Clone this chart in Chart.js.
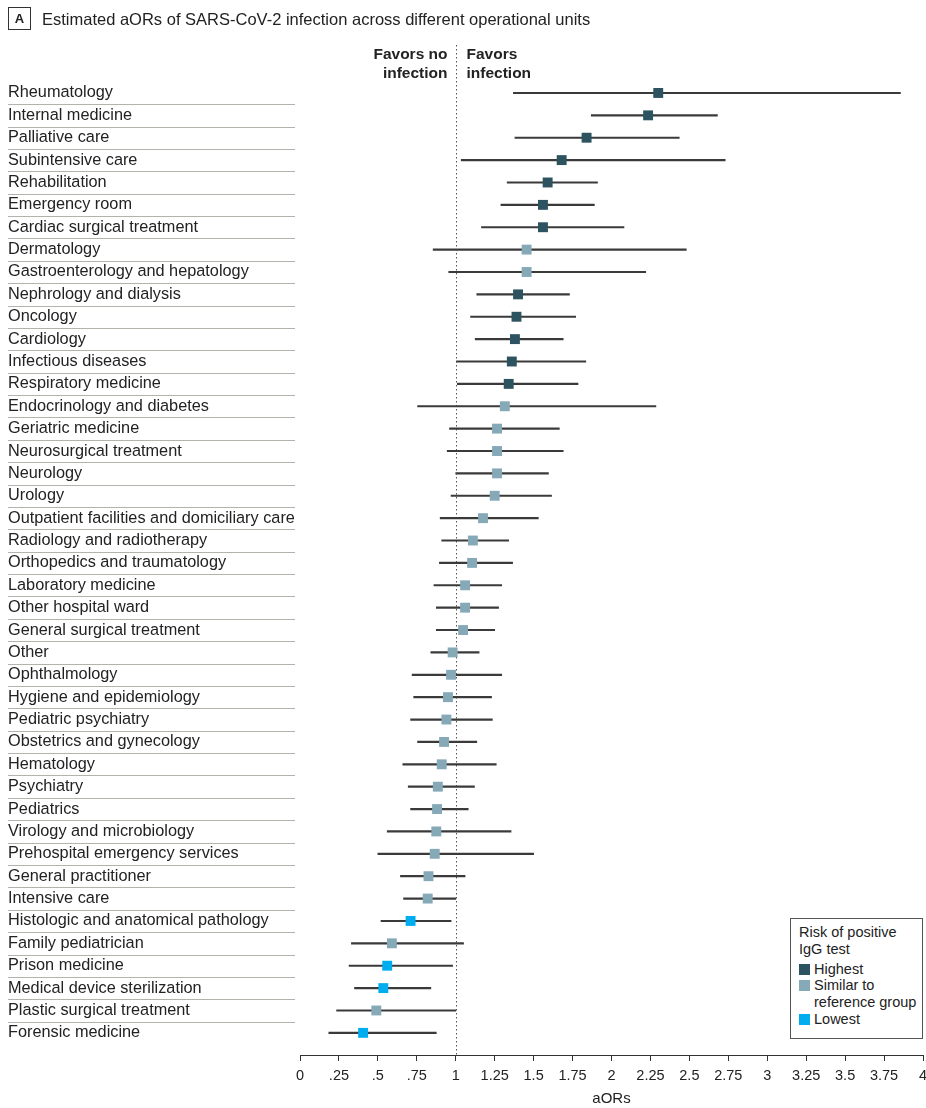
<!DOCTYPE html>
<html lang="en">
<head>
<meta charset="UTF-8">
<title>Estimated aORs by operational unit</title>
<script src="https://cdn.jsdelivr.net/npm/chart.js"></script>
<style>
  body { margin: 0; background: #fff; font-family: "Liberation Sans", Arial, sans-serif; color: #222; }
  #wrap { position: relative; width: 926px; height: 1108px; }
  #forest { position: absolute; left: 0; top: 0; }
  .head { position: absolute; left: 8px; top: 7px; font-size: 16.5px; line-height: 24px; white-space: nowrap; }
  .head b { display: inline-block; width: 21px; height: 21px; line-height: 21px; border: 1px solid #333; text-align: center; font-size: 13px; margin-right: 11px; vertical-align: middle; position: relative; top: -2px; }
  .legend { position: absolute; left: 790px; top: 918px; width: 123px; height: 111px; border: 1px solid #555; padding: 5px 0 3px 8px; font-size: 14.5px; line-height: 16.8px; background: #fff; }
  .legend .row { position: relative; padding-left: 15px; }
  .legend .sw { position: absolute; left: 0; top: 3px; width: 11px; height: 11px; }
  .legend .ttl { margin-bottom: 3px; }
</style>
</head>
<body>
<div id="wrap">
  <canvas id="forest" width="926" height="1108"></canvas>
  <div class="head"><b>A</b>Estimated aORs of SARS-CoV-2 infection across different operational units</div>
  <div class="legend" id="legend"></div>
</div>
<script>
// operational units, top to bottom
const units = [
  'Rheumatology', 'Internal medicine', 'Palliative care', 'Subintensive care', 'Rehabilitation',
  'Emergency room', 'Cardiac surgical treatment', 'Dermatology', 'Gastroenterology and hepatology',
  'Nephrology and dialysis', 'Oncology', 'Cardiology', 'Infectious diseases', 'Respiratory medicine',
  'Endocrinology and diabetes', 'Geriatric medicine', 'Neurosurgical treatment', 'Neurology', 'Urology',
  'Outpatient facilities and domiciliary care', 'Radiology and radiotherapy', 'Orthopedics and traumatology',
  'Laboratory medicine', 'Other hospital ward', 'General surgical treatment', 'Other', 'Ophthalmology',
  'Hygiene and epidemiology', 'Pediatric psychiatry', 'Obstetrics and gynecology', 'Hematology',
  'Psychiatry', 'Pediatrics', 'Virology and microbiology', 'Prehospital emergency services',
  'General practitioner', 'Intensive care', 'Histologic and anatomical pathology', 'Family pediatrician',
  'Prison medicine', 'Medical device sterilization', 'Plastic surgical treatment', 'Forensic medicine'
];

// adjusted odds ratios and 95% CI
const aor = [2.30, 2.235, 1.84, 1.68, 1.59, 1.56, 1.56, 1.455, 1.455, 1.40, 1.39, 1.38, 1.36, 1.34,
  1.315, 1.265, 1.265, 1.265, 1.25, 1.175, 1.11, 1.105, 1.06, 1.06, 1.047, 0.98, 0.97, 0.95, 0.94,
  0.925, 0.91, 0.885, 0.88, 0.875, 0.865, 0.825, 0.82, 0.71, 0.59, 0.56, 0.535, 0.49, 0.405];
const ciLow = [1.37, 1.87, 1.38, 1.035, 1.33, 1.29, 1.165, 0.855, 0.955, 1.135, 1.095, 1.125, 1.005,
  1.01, 0.755, 0.96, 0.945, 1.0, 0.97, 0.90, 0.91, 0.895, 0.86, 0.875, 0.875, 0.84, 0.72, 0.73, 0.71,
  0.755, 0.66, 0.695, 0.71, 0.56, 0.50, 0.645, 0.665, 0.52, 0.33, 0.315, 0.35, 0.235, 0.185];
const ciHigh = [3.855, 2.68, 2.435, 2.73, 1.91, 1.89, 2.08, 2.48, 2.22, 1.73, 1.77, 1.69, 1.835,
  1.785, 2.285, 1.665, 1.69, 1.595, 1.615, 1.53, 1.34, 1.365, 1.295, 1.275, 1.25, 1.15, 1.295, 1.23,
  1.235, 1.135, 1.26, 1.12, 1.08, 1.355, 1.50, 1.06, 1.0, 0.97, 1.05, 0.98, 0.84, 1.0, 0.875];

// risk of positive IgG test: H highest, S similar to reference, L lowest
const risk = ['H', 'H', 'H', 'H', 'H', 'H', 'H', 'S', 'S', 'H', 'H', 'H', 'H', 'H', 'S', 'S', 'S',
  'S', 'S', 'S', 'S', 'S', 'S', 'S', 'S', 'S', 'S', 'S', 'S', 'S', 'S', 'S', 'S', 'S', 'S', 'S',
  'S', 'L', 'S', 'L', 'L', 'S', 'L'];

const riskNames = { H: 'Highest', S: 'Similar to<br>reference group', L: 'Lowest' };
const riskColors = { H: '#2d5260', S: '#86a9b8', L: '#00aeef' };

const xTicks = [0, 0.25, 0.5, 0.75, 1, 1.25, 1.5, 1.75, 2, 2.25, 2.5, 2.75, 3, 3.25, 3.5, 3.75, 4];

// html legend
const legendEl = document.getElementById('legend');
let html = '<div class="ttl">Risk of positive<br>IgG test</div>';
for (const k of ['H', 'S', 'L']) {
  html += '<div class="row"><span class="sw" style="background:' + riskColors[k] + '"></span>' + riskNames[k] + '</div>';
}
legendEl.innerHTML = html;

// separators under labels, dotted null line and the "favors" header
const decor = {
  id: 'decor',
  beforeDatasetsDraw(chart) {
    const { ctx, scales: { x, y } } = chart;
    ctx.save();
    ctx.strokeStyle = '#b3b3ab';
    ctx.lineWidth = 1;
    for (let i = 0; i < units.length - 1; i++) {
      const py = Math.round(y.getPixelForValue(i + 0.5)) + 0.5;
      ctx.beginPath();
      ctx.moveTo(8, py);
      ctx.lineTo(295, py);
      ctx.stroke();
    }
    const px = Math.round(x.getPixelForValue(1)) + 0.5;
    ctx.strokeStyle = '#555';
    ctx.setLineDash([1.5, 2.5]);
    ctx.beginPath();
    ctx.moveTo(px, 45);
    ctx.lineTo(px, chart.chartArea.bottom);
    ctx.stroke();
    ctx.setLineDash([]);

    ctx.fillStyle = '#222';
    ctx.font = 'bold 15.5px "Liberation Sans", Arial, sans-serif';
    ctx.textBaseline = 'middle';
    ctx.textAlign = 'right';
    ctx.fillText('Favors no', px - 9, 55);
    ctx.fillText('infection', px - 9, 74);
    ctx.textAlign = 'left';
    ctx.fillText('Favors', px + 10, 55);
    ctx.fillText('infection', px + 10, 74);
    ctx.restore();
  }
};

new Chart(document.getElementById('forest'), {
  type: 'bar',
  data: {
    datasets: [
      {
        type: 'scatter',
        order: 0,
        data: units.map((u, i) => ({ x: aor[i], y: i })),
        pointStyle: 'rect',
        pointRadius: 7,
        pointHoverRadius: 7,
        borderWidth: 0,
        backgroundColor: risk.map(r => riskColors[r])
      },
      {
        type: 'bar',
        order: 1,
        indexAxis: 'y',
        data: units.map((u, i) => ({ x: [ciLow[i], ciHigh[i]], y: i })),
        backgroundColor: '#3a3a3a',
        barThickness: 1.5,
        borderWidth: 0
      }
    ]
  },
  options: {
    responsive: false,
    animation: false,
    indexAxis: 'y',
    layout: { autoPadding: false, padding: { left: 8, right: 3, top: 82, bottom: 0 } },
    plugins: { legend: { display: false }, tooltip: { enabled: false } },
    scales: {
      x: {
        type: 'linear',
        offset: false,
        bounds: 'data',
        min: 0,
        max: 4,
        afterBuildTicks: (s) => { s.ticks = xTicks.map(v => ({ value: v })); },
        afterFit: (s) => { s.height = 53; s.paddingLeft = 0; s.paddingRight = 0; },
        grid: { offset: false, drawOnChartArea: false, drawTicks: true, tickLength: 6, color: '#333' },
        border: { display: true, color: '#333', width: 1 },
        ticks: {
          padding: 6,
          color: '#222',
          font: { size: 14.5, family: '"Liberation Sans", Arial, sans-serif' },
          maxRotation: 0,
          autoSkip: false,
          callback: (v) => (v > 0 && v < 1 ? String(v).replace(/^0/, '') : String(v))
        },
        title: {
          display: true,
          text: 'aORs',
          color: '#222',
          font: { size: 15, family: '"Liberation Sans", Arial, sans-serif' },
          padding: { top: 0, bottom: 0 }
        }
      },
      y: {
        type: 'linear',
        offset: false,
        bounds: 'data',
        reverse: true,
        min: -0.49,
        max: 42.99,
        afterBuildTicks: (s) => { s.ticks = units.map((u, i) => ({ value: i })); },
        afterFit: (s) => { s.width = 292; s.paddingTop = 0; s.paddingBottom = 0; },
        grid: { offset: false, display: false },
        border: { display: false },
        ticks: {
          autoSkip: false,
          crossAlign: 'far',
          padding: 0,
          color: '#222',
          font: { size: 16.3, family: '"Liberation Sans", Arial, sans-serif' },
          callback: (v) => units[v]
        }
      }
    }
  },
  plugins: [decor]
});
</script>
</body>
</html>
